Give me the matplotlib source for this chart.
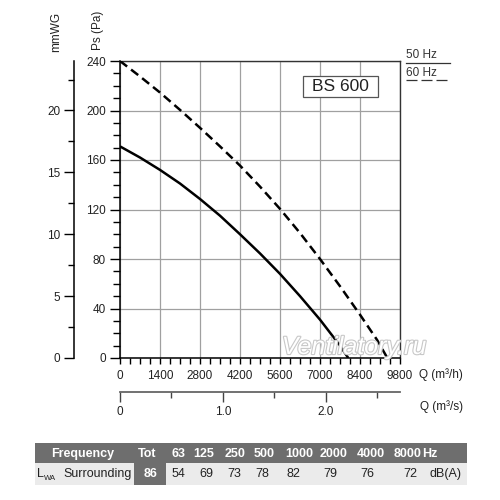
import numpy as np
import matplotlib
matplotlib.use("Agg")
import matplotlib.pyplot as plt
import matplotlib.patheffects as pe
from matplotlib.patches import Rectangle
from matplotlib.ticker import MultipleLocator, FixedLocator, FuncFormatter

plt.rcParams['font.family'] = ['Liberation Sans', 'DejaVu Sans']

# fan curves: Q in m3/h, Ps in Pa
q_50 = [0, 700, 1400, 2100, 2800, 3500, 4200, 4900, 5600, 6300, 7000, 7700, 7990]
ps_50 = [171, 162, 152, 141, 128.5, 115, 100, 84.5, 68, 50, 31, 10, 0]
q_60 = [0, 700, 1400, 2100, 2800, 3500, 4200, 4900, 5600, 6300, 7000, 7700, 8400, 9000, 9357]
ps_60 = [240, 227.5, 214.5, 200.5, 186, 171, 155.5, 138.5, 120.5, 101, 80, 58, 35, 14.5, 0]

model = "BS 600"
freq_labels = ["Tot", "63", "125", "250", "500", "1000", "2000", "4000", "8000", "Hz"]
freq_x = [147, 178, 204, 235, 264, 299, 334, 371, 408, 430]
lwa_values = ["86", "54", "69", "73", "78", "82", "79", "76", "72", "dB(A)"]
lwa_x = [151, 178, 206, 234, 262, 293, 330, 367, 410, 445]

W = H = 500


def fx(x):
    return x / W


def fy(y):
    return 1 - y / H


fig = plt.figure(figsize=(5, 5), dpi=100)
ax = fig.add_axes([fx(120), fy(358), fx(400) - fx(120), fy(61) - fy(358)])

ax.set_xlim(0, 9800)
ax.set_ylim(0, 240)

ax.plot(q_50, ps_50, color='black', lw=1.8, solid_capstyle='butt', solid_joinstyle='round', zorder=3)
ax.plot(q_60, ps_60, color='black', lw=1.8, dashes=(3.6, 2.0), zorder=3)

# grid
ax.xaxis.set_major_locator(MultipleLocator(1400))
ax.xaxis.set_minor_locator(MultipleLocator(350))
ax.yaxis.set_major_locator(MultipleLocator(40))
ax.yaxis.set_minor_locator(MultipleLocator(10))
ax.grid(True, which='major', color='#a0a0a0', lw=0.9, zorder=0)

for s in ['top', 'right']:
    ax.spines[s].set_color('#333333')
    ax.spines[s].set_linewidth(1.0)
for s in ['left', 'bottom']:
    ax.spines[s].set_color('black')
    ax.spines[s].set_linewidth(1.1)

ax.tick_params(axis='y', which='major', length=7, width=1, labelsize=8.5, pad=3, colors='black', labelcolor='#222222')
ax.tick_params(axis='y', which='minor', length=4.8, width=1)
ax.tick_params(axis='x', which='both', length=4.5, width=1, labelsize=8.5, pad=4, labelcolor='#222222')
ax.xaxis.set_major_formatter(FuncFormatter(lambda v, p: f"{int(v)}"))

# mmWG axis
ay = ax.secondary_yaxis(-46 / 280, functions=(lambda p: p / 10, lambda m: m * 10))
ay.yaxis.set_major_locator(FixedLocator([0, 5, 10, 15, 20]))
ay.yaxis.set_minor_locator(FixedLocator([2.5, 7.5, 12.5, 17.5, 22.5]))
ay.spines['left'].set_linewidth(1.1)
ay.tick_params(which='major', length=7, width=1, labelsize=8.5, pad=3, labelcolor='#222222')
ay.tick_params(which='minor', length=4.5, width=1)

# m3/s axis
axs = ax.secondary_xaxis(-34 / 297, functions=(lambda q: q / 3600, lambda s: s * 3600))
axs.xaxis.set_major_locator(FixedLocator([0, 1, 2]))
axs.xaxis.set_minor_locator(FixedLocator([0.5, 1.5, 2.5]))
axs.xaxis.set_major_formatter(FuncFormatter(lambda v, p: "0" if v == 0 else f"{v:.1f}"))
axs.spines['bottom'].set_color('#666666')
axs.spines['bottom'].set_linewidth(1.3)
axs.tick_params(which='major', length=7, width=1, labelsize=8.5, pad=3, color='#444444', labelcolor='#222222')
axs.tick_params(which='minor', length=4.5, width=1, color='#444444')

# axis titles
fig.text(fx(56), fy(32), "mmWG", rotation=90, ha='center', va='center', fontsize=8.5, color='#222222')
fig.text(fx(98), fy(30), "Ps (Pa)", rotation=90, ha='center', va='center', fontsize=8.5, color='#222222')
fig.text(fx(419), fy(375), "Q (m³/h)", ha='left', va='center', fontsize=8.5, color='#222222')
fig.text(fx(420), fy(407), "Q (m³/s)", ha='left', va='center', fontsize=8.5, color='#222222')

# legend
fig.text(fx(406), fy(55), "50 Hz", ha='left', va='center', fontsize=8.5, color='#333333')
fig.add_artist(plt.Line2D([fx(406), fx(450)], [fy(63), fy(63)], color='#333333', lw=0.9))
fig.text(fx(406), fy(73), "60 Hz", ha='left', va='center', fontsize=8.5, color='#333333')
fig.add_artist(plt.Line2D([fx(406), fx(450)], [fy(80), fy(80)], color='#333333', lw=0.9, dashes=(8.8, 3.2)))

# model box
fig.add_artist(Rectangle((fx(303), fy(97)), fx(378) - fx(303), fy(76) - fy(97),
                         transform=fig.transFigure, facecolor='white', edgecolor='#555555', lw=0.9, zorder=5))
fig.text(fx(340.5), fy(86.5), model, ha='center', va='center', fontsize=12.5, color='#222222', zorder=6)

# watermark
fig.text(fx(354), fy(347), "Ventilatory.ru", ha='center', va='center', fontsize=18, style='italic',
         color='white', zorder=7,
         path_effects=[pe.Stroke(linewidth=1.6, foreground='#c8c8c8'), pe.Normal()])

# noise table
fig.add_artist(Rectangle((fx(35), fy(463)), fx(467) - fx(35), fy(443) - fy(463),
                         transform=fig.transFigure, facecolor='#6e6e6e', edgecolor='none'))
fig.add_artist(Rectangle((fx(35), fy(485)), fx(467) - fx(35), fy(463) - fy(485),
                         transform=fig.transFigure, facecolor='#ebebeb', edgecolor='none'))
fig.add_artist(Rectangle((fx(134), fy(485)), fx(166) - fx(134), fy(463) - fy(485),
                         transform=fig.transFigure, facecolor='#6e6e6e', edgecolor='none'))

fig.text(fx(82.5), fy(454), "Frequency", ha='center', va='center', fontsize=9, fontweight='bold', color='white')
for lab, x in zip(freq_labels, freq_x):
    fig.text(fx(x), fy(454), lab, ha='center', va='center', fontsize=9, fontweight='bold', color='white')

fig.text(fx(37), fy(474), "L", ha='left', va='center', fontsize=9, color='#222222')
fig.text(fx(43.5), fy(478), "WA", ha='left', va='center', fontsize=5.5, color='#222222')
fig.text(fx(63), fy(474), "Surrounding", ha='left', va='center', fontsize=9, color='#222222')
for i, (lab, x) in enumerate(zip(lwa_values, lwa_x)):
    c = 'white' if i == 0 else '#222222'
    w = 'bold' if i == 0 else 'normal'
    fig.text(fx(x), fy(474), lab, ha='center', va='center', fontsize=9, color=c, fontweight=w)

fig.savefig("out.png", dpi=100)
